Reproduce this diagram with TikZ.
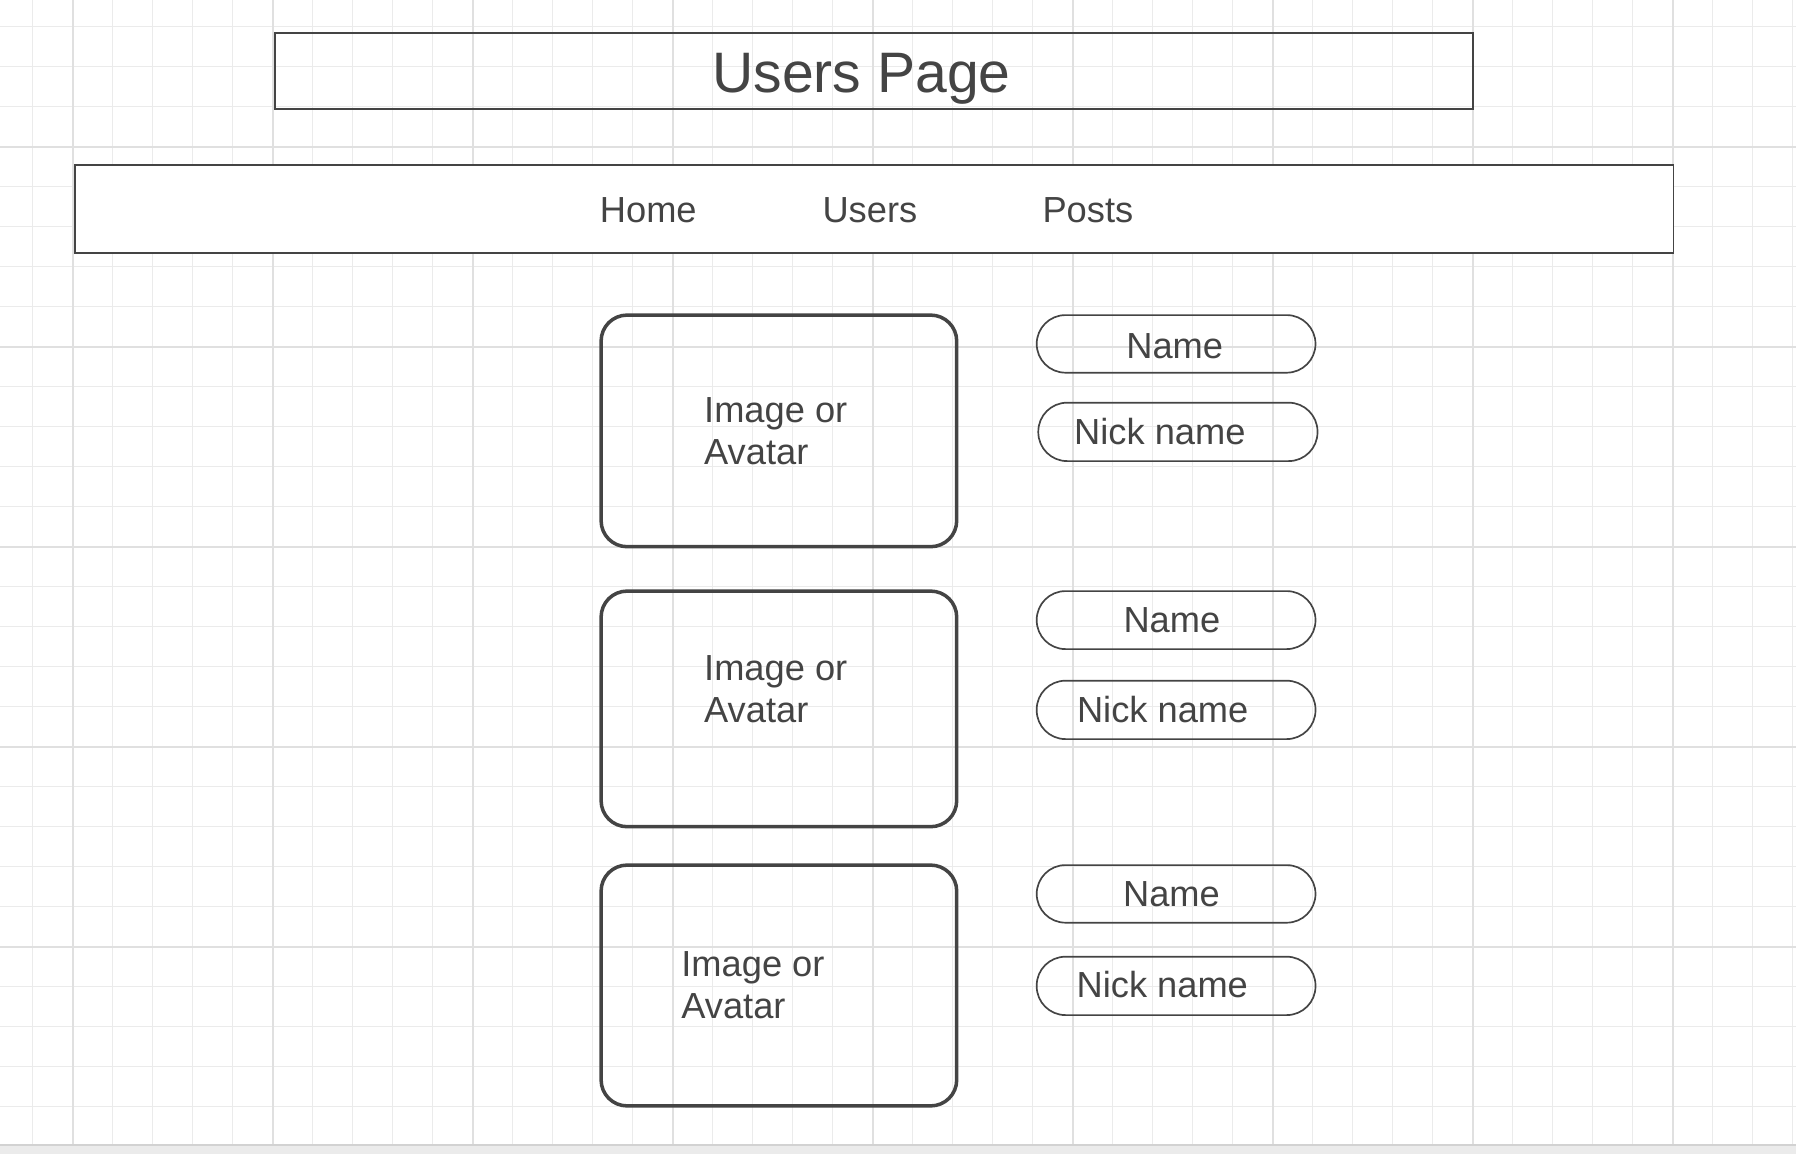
\documentclass[tikz,border=0pt]{standalone}
\usepackage{fontspec}
\setmainfont{Liberation Sans}
\usepackage{tikz}
\usetikzlibrary{positioning}
\definecolor{ink}{HTML}{444444}
\definecolor{minorline}{HTML}{EBEBEB}
\definecolor{majorline}{HTML}{E0E0E0}
\definecolor{bandgray}{HTML}{EBEBEB}
\definecolor{bandline}{HTML}{D2D2D2}

\begin{document}
\begin{tikzpicture}[
	minorgrid/.style={draw=minorline, line width=0.85pt},
	majorgrid/.style={draw=majorline, line width=1.2pt, step=5},
	barbox/.style={draw=ink, line width=1.4pt},
	cardbox/.style={draw=ink, line width=2.5pt, rounded corners=0.65cm},
	pillbox/.style={draw=ink, line width=1.2pt, rounded corners=0.72cm},
	bigtxt/.style={text=ink, inner sep=0pt, anchor=base, font=\fontsize{40.6}{48}\selectfont},
	txt/.style={text=ink, inner sep=0pt, anchor=base, font=\fontsize{25.8}{29.9}\selectfont},
	cardtxt/.style={txt, anchor=base west, align=left}]
								\useasboundingbox (-0.8175,0.6675) rectangle (44.0825,-28.1825);
								\draw[minorgrid] (-0.8175,-27.95) grid (44.0825,0.6675);
								\draw[majorgrid, shift={(1,2)}] (-1.8175,-29.95) grid (43.0825,-1.3325);
								\fill[bandgray] (-0.8175,-27.96) rectangle (44.0825,-28.1825);
								\draw[bandline, line width=1.4pt] (-0.8175,-27.9575) -- (44.0825,-27.9575);
								
								\draw[barbox] (6.05,-0.15) rectangle (36,-2.05);
								\draw (20.72,-1.64) node[bigtxt] (title) {Users Page};
								
								\draw[barbox, fill=white] (1.05,-3.46) rectangle (41.02,-5.65);
								\draw (15.39,-4.9) node[txt] (home) {Home};
								\draw (20.93,-4.9) node[txt] (users) {Users};
								\draw (26.38,-4.9) node[txt] (posts) {Posts};
								
								\draw[cardbox] (14.21,-7.21) rectangle (23.1,-13);
								\draw (16.78,-10.95) node[cardtxt] (avatar1) {Image or\\Avatar};
								\draw[pillbox] (25.1,-7.21) rectangle (32.07,-8.65);
								\draw (28.55,-8.3) node[txt] (name1) {Name};
								\draw[pillbox] (25.14,-9.4) rectangle (32.12,-10.86);
								\draw (28.18,-10.44) node[txt] (nick1) {Nick name};
								
								\draw[cardbox] (14.21,-14.11) rectangle (23.1,-20);
								\draw (16.78,-17.4) node[cardtxt] (avatar2) {Image or\\Avatar};
								\draw[pillbox] (25.1,-14.11) rectangle (32.07,-15.56);
								\draw (28.48,-15.145) node[txt] (name2) {Name};
								\draw[pillbox] (25.1,-16.35) rectangle (32.07,-17.81);
								\draw (28.25,-17.4) node[txt] (nick2) {Nick name};
								
								\draw[cardbox] (14.21,-20.96) rectangle (23.1,-26.98);
								\draw (16.21,-24.8) node[cardtxt] (avatar3) {Image or\\Avatar};
								\draw[pillbox] (25.1,-20.96) rectangle (32.07,-22.4);
								\draw (28.47,-21.985) node[txt] (name3) {Name};
								\draw[pillbox] (25.1,-23.25) rectangle (32.07,-24.71);
								\draw (28.24,-24.275) node[txt] (nick3) {Nick name};
\end{tikzpicture}
\end{document}
